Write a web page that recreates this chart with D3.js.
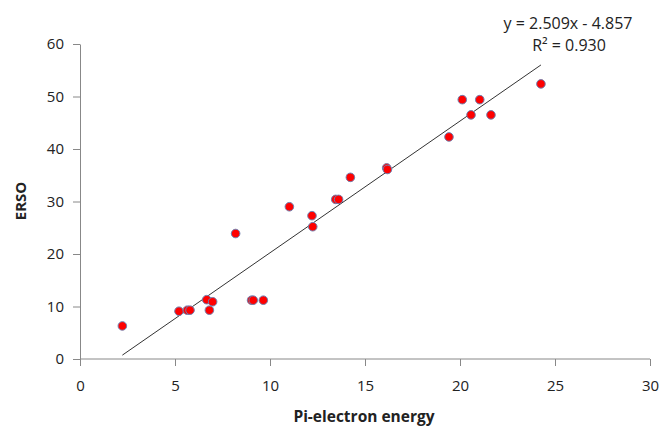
<!DOCTYPE html>
<html>
<head>
<meta charset="utf-8">
<script src="https://cdn.jsdelivr.net/npm/d3@7"></script>
<style>
	body { margin: 0; background: #fff; }
	svg text { font-family: "Open Sans", "Noto Sans", sans-serif; fill: #222; }
	.axis path, .axis line { stroke: #888; }
</style>
</head>
<body>
<div id="chart"></div>
<script>
// Pi-electron energy (x) and ERSO (y)
var piEnergy = [2.23, 5.21, 5.65, 5.79, 6.67, 6.98, 6.81, 9.03, 9.12, 9.65,
	8.19, 11.02, 12.21, 12.25, 13.46, 13.61, 14.23, 16.14, 16.18,
	19.42, 20.12, 20.58, 21.04, 21.63, 24.26];
var erso = [6.3, 9.1, 9.3, 9.3, 11.3, 10.9, 9.3, 11.2, 11.2, 11.2,
	23.9, 29.0, 27.3, 25.2, 30.4, 30.4, 34.6, 36.4, 36.1,
	42.3, 49.4, 46.5, 49.4, 46.5, 52.4];
var xTicks = [0, 5, 10, 15, 20, 25, 30];
var yTicks = [0, 10, 20, 30, 40, 50, 60];
var fit = {slope: 2.509, intercept: -4.857, r2: '0.930'};

var width = 660, height = 431;

var svg = d3.select('#chart').append('svg')
	.attr('width', width)
	.attr('height', height);

var xScale = d3.scaleLinear().domain([0, 30]).range([80, 650]);
var yScale = d3.scaleLinear().domain([0, 60]).range([359, 44]);

var xAxis = d3.axisBottom(xScale).tickValues(xTicks).tickSize(7).tickSizeOuter(0).tickPadding(14);
var yAxis = d3.axisLeft(yScale).tickValues(yTicks).tickSize(7).tickSizeOuter(0).tickPadding(9);

var gx = svg.append('g').attr('class', 'axis')
	.attr('transform', 'translate(0,' + yScale(0) + ')')
	.call(xAxis);
var gy = svg.append('g').attr('class', 'axis')
	.attr('transform', 'translate(' + xScale(0) + ',0)')
	.call(yAxis);
svg.selectAll('.axis text').style('font-size', '15px').attr('fill', '#222');
gx.select('.domain').attr('d', 'M' + xScale(0) + ',0H' + xScale(30));

// trend line over the range of the data
var xMin = d3.min(piEnergy), xMax = d3.max(piEnergy);
svg.append('line')
	.attr('x1', xScale(xMin))
	.attr('y1', yScale(fit.slope * xMin + fit.intercept))
	.attr('x2', xScale(xMax))
	.attr('y2', yScale(fit.slope * xMax + fit.intercept))
	.attr('stroke', '#333')
	.attr('stroke-width', 1);

svg.append('g').selectAll('circle')
	.data(piEnergy)
	.enter().append('circle')
	.attr('cx', function(d) { return xScale(d); })
	.attr('cy', function(d, i) { return yScale(erso[i]); })
	.attr('r', 4.3)
	.attr('fill', '#ff0000')
	.attr('stroke', '#7080b0')
	.attr('stroke-width', 1);

svg.append('text')
	.attr('x', 568).attr('y', 29)
	.attr('text-anchor', 'middle')
	.style('font-size', '16px')
	.text('y = ' + fit.slope.toFixed(3) + 'x - ' + Math.abs(fit.intercept).toFixed(3));
svg.append('text')
	.attr('x', 569).attr('y', 51)
	.attr('text-anchor', 'middle')
	.style('font-size', '16px')
	.text('R² = ' + fit.r2);

svg.append('text')
	.attr('x', 364).attr('y', 422)
	.attr('text-anchor', 'middle')
	.style('font-size', '15.5px')
	.style('font-weight', 'bold')
	.attr('fill', '#000')
	.text('Pi-electron energy');
svg.append('text')
	.attr('transform', 'translate(26,201) rotate(-90)')
	.attr('text-anchor', 'middle')
	.style('font-size', '15px')
	.style('font-weight', 'bold')
	.attr('fill', '#000')
	.text('ERSO');
</script>
</body>
</html>
